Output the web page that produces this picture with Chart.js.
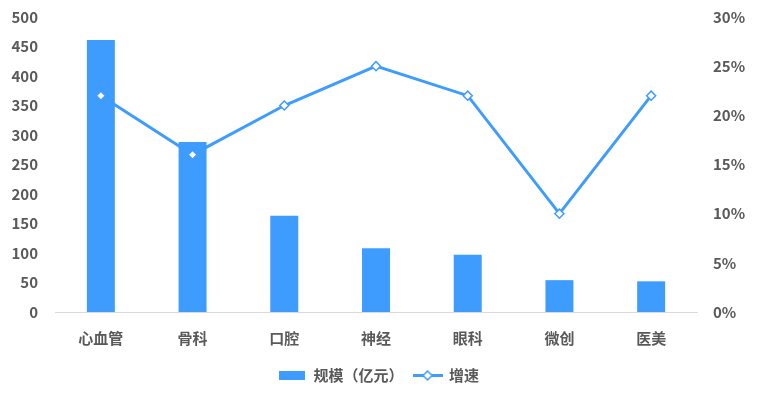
<!DOCTYPE html>
<html>
<head>
<meta charset="utf-8">
<script src="https://cdn.jsdelivr.net/npm/chart.js@4"></script>
<style>
html,body{margin:0;padding:0;background:#fff;}
#wrap{width:757px;height:397px;}
</style>
</head>
<body>
<div id="wrap"><canvas id="c" width="757" height="397"></canvas></div>
<script>
const categories = ['心血管','骨科','口腔','神经','眼科','微创','医美'];
const scaleValues = [461, 288, 163, 108, 97, 54, 52];
const growthValues = [0.22, 0.16, 0.21, 0.25, 0.22, 0.10, 0.22];
const seriesNames = ['规模（亿元）', '增速'];

const BLUE = '#3f9cff';
const TEXT = '#595959';
const FONT = '"Noto Sans CJK SC", "Noto Sans", sans-serif';

function barIcon(){
  const c = document.createElement('canvas'); c.width = 26; c.height = 9;
  const g = c.getContext('2d'); g.fillStyle = BLUE; g.fillRect(0,0,26,9); return c;
}
function lineIcon(){
  const c = document.createElement('canvas'); c.width = 30; c.height = 11;
  const g = c.getContext('2d');
  g.strokeStyle = BLUE; g.lineWidth = 3;
  g.beginPath(); g.moveTo(0,5.5); g.lineTo(30,5.5); g.stroke();
  g.fillStyle = '#fff'; g.lineWidth = 1.5;
  g.beginPath(); g.moveTo(15,1); g.lineTo(19.5,5.5); g.lineTo(15,10); g.lineTo(10.5,5.5); g.closePath();
  g.fill(); g.stroke();
  return c;
}
const icons = [barIcon(), lineIcon()];

function fixV(w){ return (s) => { s.width = w; s.paddingTop = 8; s.paddingBottom = 8; }; }

new Chart(document.getElementById('c'), {
  data: {
    labels: categories,
    datasets: [
      {
        type: 'bar', label: seriesNames[0], data: scaleValues, yAxisID: 'y',
        backgroundColor: BLUE, borderWidth: 0, order: 1,
        categoryPercentage: 0.61, barPercentage: 0.5
      },
      {
        type: 'line', label: seriesNames[1], data: growthValues, yAxisID: 'y1',
        borderColor: BLUE, borderWidth: 3, tension: 0, order: 0,
        pointStyle: 'rectRot', pointRadius: 4.5, pointBackgroundColor: '#fff',
        pointBorderColor: BLUE, pointBorderWidth: 1.5
      }
    ]
  },
  options: {
    responsive: false, animation: false,
    layout: { padding: { top: 17, bottom: 4, left: 0, right: 0 } },
    plugins: {
      tooltip: { enabled: false },
      legend: {
        position: 'bottom',
        labels: {
          usePointStyle: true, pointStyleWidth: 28, padding: 10,
          color: TEXT, font: { family: FONT, size: 15, weight: 'bold' },
          generateLabels: (chart) => [0,1].map(i => ({
            text: chart.data.datasets[i].label,
            datasetIndex: i, pointStyle: icons[i],
            fillStyle: BLUE, strokeStyle: BLUE, lineWidth: 0,
            fontColor: TEXT, hidden: false
          }))
        }
      }
    },
    scales: {
      x: {
        grid: { display: false, drawTicks: false },
        border: { display: true, color: '#d9d9d9', width: 1 },
        ticks: { color: TEXT, font: { family: FONT, size: 15, weight: 'bold' }, padding: 17 },
        afterFit: (s) => { s.height = 46; s.paddingLeft = 0; s.paddingRight = 0; }
      },
      y: {
        position: 'left', min: 0, max: 500,
        grid: { display: false, drawTicks: false },
        border: { display: false },
        ticks: { stepSize: 50, color: TEXT, padding: 17, font: { family: FONT, size: 15, weight: 'bold' } },
        afterFit: fixV(55)
      },
      y1: {
        position: 'right', min: 0, max: 0.3,
        grid: { display: false, drawTicks: false },
        border: { display: false },
        ticks: {
          stepSize: 0.05, color: TEXT, padding: 16, font: { family: FONT, size: 15, weight: 'bold' },
          callback: (v) => Math.round(v * 100) + '%'
        },
        afterFit: fixV(60)
      }
    }
  }
});
</script>
</body>
</html>
